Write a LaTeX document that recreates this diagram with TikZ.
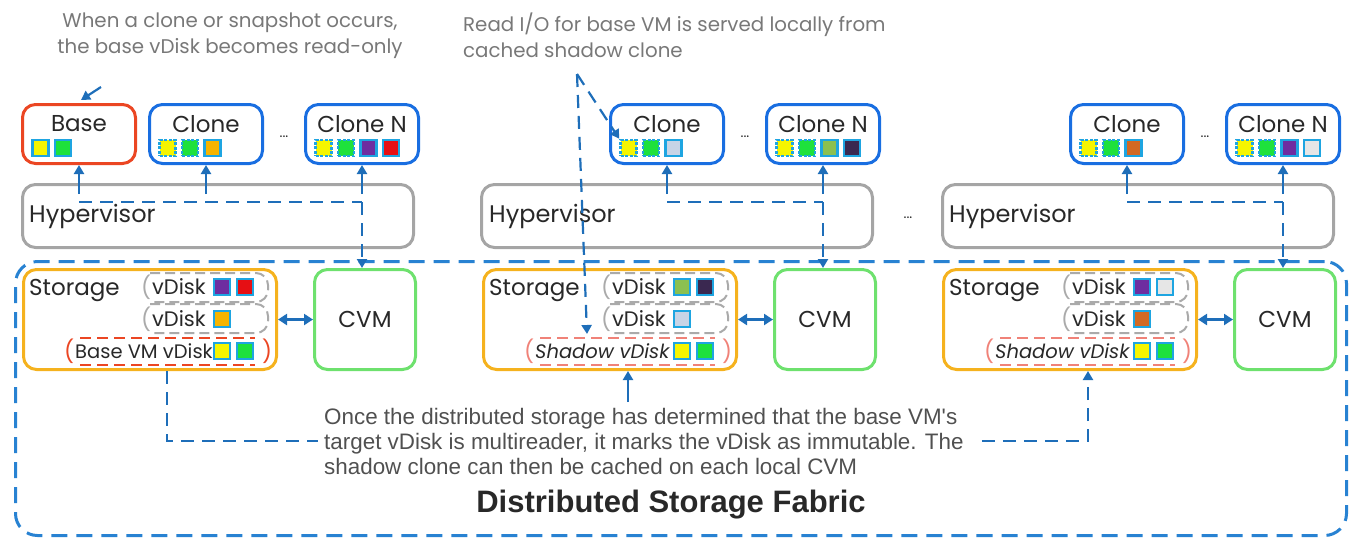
\documentclass[tikz,border=0pt]{standalone}
\usepackage{fontspec}
\setmainfont{Poppins}
\newfontfamily\parafont{Liberation Sans}
\usetikzlibrary{calc,arrows.meta}
\definecolor{vmblue}{RGB}{25,110,225}
\definecolor{basered}{RGB}{235,70,35}
\definecolor{hypgray}{RGB}{165,165,165}
\definecolor{storor}{RGB}{245,178,30}
\definecolor{cvmgreen}{RGB}{110,225,110}
\definecolor{arrblue}{RGB}{30,110,185}
\definecolor{fabblue}{RGB}{40,130,210}
\definecolor{sqcyan}{RGB}{30,165,225}
\definecolor{sqY}{RGB}{245,245,0}
\definecolor{sqG}{RGB}{30,225,60}
\definecolor{sqO}{RGB}{245,180,0}
\definecolor{sqP}{RGB}{110,45,160}
\definecolor{sqR}{RGB}{230,15,20}
\definecolor{sqL}{RGB}{200,212,230}
\definecolor{sqV}{RGB}{140,192,80}
\definecolor{sqD}{RGB}{58,40,80}
\definecolor{sqB}{RGB}{210,105,35}
\definecolor{sqW}{RGB}{230,230,230}
\definecolor{txtdark}{RGB}{40,40,40}
\definecolor{notegray}{RGB}{120,120,120}
\definecolor{paragray}{RGB}{80,80,80}
\definecolor{capgray}{RGB}{170,170,170}
\definecolor{salmon}{RGB}{240,130,120}
\begin{document}
\begin{tikzpicture}[x=1pt,y=-1pt,
  rbox/.style={line width=3pt,rounded corners=13pt,inner sep=0pt},
  vm/.style={rbox,draw=vmblue,minimum width=113pt,minimum height=59pt},
  basevm/.style={vm,draw=basered},
  hyp/.style={rbox,draw=hypgray,minimum width=391pt,minimum height=63pt},
  stor/.style={rbox,draw=storor,minimum width=253pt,minimum height=100pt},
  cvm/.style={rbox,draw=cvmgreen,minimum width=101pt,minimum height=100pt,font=\fontsize{23}{26}\selectfont,text=txtdark},
  fabric/.style={draw=fabblue,line width=3pt,rounded corners=22pt,dash pattern=on 16pt off 9pt,minimum width=1331pt,minimum height=274pt},
  sq/.style={draw=sqcyan,line width=2.5pt,minimum size=16pt,inner sep=0pt},
  dsq/.style={sq,dash pattern=on 3pt off 1.5pt},
  lbl/.style={font=\fontsize{23}{26}\selectfont,text=txtdark,inner sep=0pt},
  hlbl/.style={font=\fontsize{24}{26}\selectfont,text=txtdark,inner sep=0pt,anchor=west},
  slbl/.style={font=\fontsize{23}{26}\selectfont,text=txtdark,inner sep=0pt,anchor=west},
  vlbl/.style={font=\fontsize{21}{24}\selectfont,text=txtdark,inner sep=0pt,anchor=west},
  blbl/.style={font=\fontsize{19.5}{24}\selectfont,text=txtdark,inner sep=0pt,anchor=west},
  paren/.style={font=\fontsize{22}{24}\selectfont,inner sep=0pt},
  capsule/.style={draw=capgray,line width=2pt,dash pattern=on 10pt off 5pt,rounded corners=12pt},
  vdash/.style={line width=2pt,dash pattern=on 11pt off 6pt},
  note/.style={font=\fontsize{19.8}{26}\selectfont,text=notegray,inner sep=0pt},
  dots/.style={font=\fontsize{14}{16}\selectfont,text=txtdark,inner sep=0pt},
  conn/.style={draw=arrblue,line width=2.2pt},
  dconn/.style={conn,dash pattern=on 13pt off 8pt},
  atip/.style={-{Triangle[length=9pt,width=10pt]}},
  dtip/.style={{Triangle[length=9pt,width=11pt]}-{Triangle[length=9pt,width=11pt]}},
]
\useasboundingbox (0,0) rectangle (1354,542);
% notes
\node[note,align=center] (n1) at (230,36) {When a clone or snapshot occurs,\\the base vDisk becomes read-only};
\node[note,align=left,anchor=west] (n2) at (463,35) {Read I/O for base VM is served locally from\\cached shadow clone};

% fabric
\node[fabric] (fab) at (681,398.5) {};
\node[font={\parafont\bfseries\fontsize{31}{34}\selectfont},text=txtdark,inner sep=0pt] (fabl) at (671,505) {Distributed Storage Fabric};
\node[font={\parafont\fontsize{22.4}{25}\selectfont},text=paragray,inner sep=6pt,align=left,anchor=west] (para) at (318,441) {Once the distributed storage has determined that the base VM's\\target vDisk is multireader, it marks the vDisk as immutable. The\\shadow clone can then be cached on each local CVM};

% ===== group 1 =====
\node[basevm] (base) at (79,134) {};
\node[lbl] (base-l) at (79,124) {Base};
\foreach \s/\c [count=\i from 0] in {sq/sqY,sq/sqG}
  \node[\s,fill=\c] (base-\i) at (40.5+22.5*\i,148) {};
\node[vm] (c1) at (206,134) {};
\node[lbl] (c1-l) at (206,124) {Clone};
\foreach \s/\c [count=\i from 0] in {dsq/sqY,dsq/sqG,sq/sqO}
  \node[\s,fill=\c] (c1-\i) at (167.5+22.5*\i,148) {};
\node[dots] (d1) at (284,137) {...};
\node[vm] (c1n) at (362,134) {};
\node[lbl] (c1n-l) at (362,124) {Clone N};
\foreach \s/\c [count=\i from 0] in {dsq/sqY,dsq/sqG,sq/sqP,sq/sqR}
  \node[\s,fill=\c] (c1n-\i) at (323.5+22.5*\i,148) {};
\node[hyp] (h1) at (218,216) {};
\node[hlbl] (h1-l) at (29,216) {Hypervisor};

\node[stor] (s1) at (150,319.5) {};
\node[cvm] (v1) at (365,319.5) {CVM};
\node[slbl] (s1-l) at (29,290) {Storage};
\draw[capsule] (150,273) -- (268,273) -- (268,302) -- (150,302);
\node[paren,text=capgray] (s1-p1) at (146,287) {(};
\node[vlbl] (s1-v1) at (152,287) {vDisk};
\node[sq,fill=sqP] (s1-a) at (222,287) {};
\node[sq,fill=sqR] (s1-b) at (245,287) {};
\draw[capsule] (150,304) -- (268,304) -- (268,333) -- (150,333);
\node[paren,text=capgray] (s1-p2) at (146,319) {(};
\node[vlbl] (s1-v2) at (152,319) {vDisk};
\node[sq,fill=sqO] (s1-c) at (222,319) {};
\draw[vdash,draw=basered] (80,338) -- (255,338);
\draw[vdash,draw=basered] (80,365) -- (255,365);
\node[paren,text=basered] (s1-p3) at (69,351) {(};
\node[blbl] (s1-v3) at (75,351) {Base VM vDisk};
\node[sq,fill=sqY] (s1-d) at (222,351) {};
\node[sq,fill=sqG] (s1-e) at (245,351) {};
\node[paren,text=basered] (s1-p4) at (267,351) {)};
\draw[conn,dtip] (s1.east) -- (v1.west);

% ===== group 2 =====
\node[vm] (c2) at (667,134) {};
\node[lbl] (c2-l) at (667,124) {Clone};
\foreach \s/\c [count=\i from 0] in {dsq/sqY,dsq/sqG,sq/sqL}
  \node[\s,fill=\c] (c2-\i) at (628.5+22.5*\i,148) {};
\node[dots] (d2) at (745,137) {...};
\node[vm] (c2n) at (823,134) {};
\node[lbl] (c2n-l) at (823,124) {Clone N};
\foreach \s/\c [count=\i from 0] in {dsq/sqY,dsq/sqG,sq/sqV,sq/sqD}
  \node[\s,fill=\c] (c2n-\i) at (784.5+22.5*\i,148) {};
\node[hyp] (h2) at (677,216) {};
\node[hlbl] (h2-l) at (489,216) {Hypervisor};

\node[stor] (s2) at (610,319.5) {};
\node[cvm] (v2) at (825,319.5) {CVM};
\node[slbl] (s2-l) at (489,290) {Storage};
\draw[capsule] (610,273) -- (728,273) -- (728,302) -- (610,302);
\node[paren,text=capgray] (s2-p1) at (606,287) {(};
\node[vlbl] (s2-v1) at (612,287) {vDisk};
\node[sq,fill=sqV] (s2-a) at (682,287) {};
\node[sq,fill=sqD] (s2-b) at (705,287) {};
\draw[capsule] (610,304) -- (728,304) -- (728,333) -- (610,333);
\node[paren,text=capgray] (s2-p2) at (606,319) {(};
\node[vlbl] (s2-v2) at (612,319) {vDisk};
\node[sq,fill=sqL] (s2-c) at (682,319) {};
\draw[vdash,draw=salmon] (540,338) -- (715,338);
\draw[vdash,draw=salmon] (540,365) -- (715,365);
\node[paren,text=salmon] (s2-p3) at (529,351) {(};
\node[blbl] (s2-v3) at (535,351) {\itshape Shadow vDisk};
\node[sq,fill=sqY] (s2-d) at (682,351) {};
\node[sq,fill=sqG] (s2-e) at (705,351) {};
\node[paren,text=salmon] (s2-p4) at (727,351) {)};
\draw[conn,dtip] (s2.east) -- (v2.west);

% ===== group 3 =====
\node[dots] (d4) at (908,218) {...};
\node[vm] (c3) at (1127,134) {};
\node[lbl] (c3-l) at (1127,124) {Clone};
\foreach \s/\c [count=\i from 0] in {dsq/sqY,dsq/sqG,sq/sqB}
  \node[\s,fill=\c] (c3-\i) at (1088.5+22.5*\i,148) {};
\node[dots] (d3) at (1205,137) {...};
\node[vm] (c3n) at (1283,134) {};
\node[lbl] (c3n-l) at (1283,124) {Clone N};
\foreach \s/\c [count=\i from 0] in {dsq/sqY,dsq/sqG,sq/sqP,sq/sqW}
  \node[\s,fill=\c] (c3n-\i) at (1244.5+22.5*\i,148) {};
\node[hyp] (h3) at (1138,216) {};
\node[hlbl] (h3-l) at (949,216) {Hypervisor};

\node[stor] (s3) at (1070,319.5) {};
\node[cvm] (v3) at (1285,319.5) {CVM};
\node[slbl] (s3-l) at (949,290) {Storage};
\draw[capsule] (1070,273) -- (1188,273) -- (1188,302) -- (1070,302);
\node[paren,text=capgray] (s3-p1) at (1066,287) {(};
\node[vlbl] (s3-v1) at (1072,287) {vDisk};
\node[sq,fill=sqP] (s3-a) at (1142,287) {};
\node[sq,fill=sqW] (s3-b) at (1165,287) {};
\draw[capsule] (1070,304) -- (1188,304) -- (1188,333) -- (1070,333);
\node[paren,text=capgray] (s3-p2) at (1066,319) {(};
\node[vlbl] (s3-v2) at (1072,319) {vDisk};
\node[sq,fill=sqB] (s3-c) at (1142,319) {};
\draw[vdash,draw=salmon] (1000,338) -- (1175,338);
\draw[vdash,draw=salmon] (1000,365) -- (1175,365);
\node[paren,text=salmon] (s3-p3) at (989,351) {(};
\node[blbl] (s3-v3) at (995,351) {\itshape Shadow vDisk};
\node[sq,fill=sqY] (s3-d) at (1142,351) {};
\node[sq,fill=sqG] (s3-e) at (1165,351) {};
\node[paren,text=salmon] (s3-p4) at (1187,351) {)};
\draw[conn,dtip] (s3.east) -- (v3.west);

% ===== connectors =====
\coordinate (m0) at (101,87);
\draw[conn,atip] (m0) -- ($(base.north)+(2,-3)$);

\coordinate (j1a) at (79,202);
\coordinate (j1b) at (206,202);
\coordinate (j1c) at (362,202);
\draw[conn,atip] ($(j1a)+(0,-8)$) -- (base.south);
\draw[conn,atip] ($(j1b)+(0,-8)$) -- (c1.south);
\draw[conn,atip] ($(j1c)+(0,-8)$) -- (c1n.south);
\draw[dconn] (j1a) -- (j1c);
\draw[dconn,atip] (j1c) -- (j1c |- v1.north);

\coordinate (j2b) at (667,202);
\coordinate (j2c) at (823,202);
\draw[conn,atip] ($(j2b)+(0,-8)$) -- (c2.south);
\draw[conn,atip] ($(j2c)+(0,-8)$) -- (c2n.south);
\draw[dconn] (j2b) -- (j2c);
\draw[dconn,atip] (j2c) -- (j2c |- v2.north);

\coordinate (j3b) at (1127,202);
\coordinate (j3c) at (1283,202);
\draw[conn,atip] ($(j3b)+(0,-8)$) -- (c3.south);
\draw[conn,atip] ($(j3c)+(0,-8)$) -- (c3n.south);
\draw[dconn] (j3b) -- (j3c);
\draw[dconn,atip] (j3c) -- (j3c |- v3.north);

\coordinate (r0) at (577,74);
\coordinate (r1) at (587,334);
\draw[dconn,atip] (r0) -- (r1);
\draw[dconn,atip] (r0) -- (c2-0.north west);

\coordinate (k1) at (167,441);
\draw[dconn] (k1 |- s1.south) -- (k1) -- (para.west);
\coordinate (k2) at (628,402);
\draw[conn,atip] (k2) -- (k2 |- s2.south);
\coordinate (k3) at (1088,441);
\draw[dconn,atip] ([xshift=12pt]para.east |- k3) -- (k3) -- (k3 |- s3.south);
\end{tikzpicture}
\end{document}
